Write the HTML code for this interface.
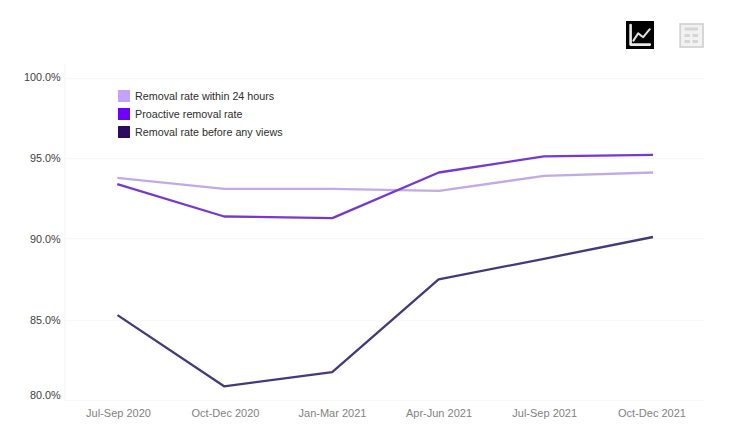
<!DOCTYPE html>
<html>
<head>
<meta charset="utf-8">
<style>
html,body{margin:0;padding:0;background:#fff;}
body{width:739px;height:448px;overflow:hidden;position:relative;font-family:"Liberation Sans",sans-serif;}
svg{position:absolute;left:0;top:0;}
.yl{font-size:10.8px;fill:#3e3e3e;}
.xl{font-size:11px;fill:#828282;}
.lg{font-size:10.75px;fill:#2e2e2e;}
</style>
</head>
<body>
<svg width="739" height="448" viewBox="0 0 739 448">
  <!-- grid -->
  <g fill="#f8f8f8">
    <rect x="65" y="78" width="639" height="1"/>
    <rect x="65" y="158" width="639" height="1"/>
    <rect x="65" y="238" width="639" height="1"/>
    <rect x="65" y="320" width="639" height="1"/>
    <rect x="65" y="400" width="639" height="1"/>
    <rect x="64.5" y="64" width="1" height="337" fill="#f4f4f4"/>
  </g>
  <!-- y labels -->
  <g class="yl" text-anchor="end">
    <text x="60.5" y="81">100.0%</text>
    <text x="60.5" y="162">95.0%</text>
    <text x="60.5" y="242.5">90.0%</text>
    <text x="60.5" y="323.6">85.0%</text>
    <text x="60.5" y="399">80.0%</text>
  </g>
  <!-- x labels -->
  <g class="xl" text-anchor="middle">
    <text x="118.5" y="417">Jul-Sep 2020</text>
    <text x="225.5" y="417">Oct-Dec 2020</text>
    <text x="332.5" y="417">Jan-Mar 2021</text>
    <text x="439" y="417">Apr-Jun 2021</text>
    <text x="544.7" y="417">Jul-Sep 2021</text>
    <text x="652" y="417">Oct-Dec 2021</text>
  </g>
  <!-- legend -->
  <rect x="118" y="90" width="12" height="12" fill="#c6a3fa"/>
  <rect x="118" y="108" width="12" height="12" fill="#6f00ff"/>
  <rect x="118" y="126" width="12" height="12" fill="#2c0b62"/>
  <g class="lg">
    <text x="135" y="99.5">Removal rate within 24 hours</text>
    <text x="135" y="117.5">Proactive removal rate</text>
    <text x="135" y="135.5">Removal rate before any views</text>
  </g>
  <!-- lines -->
  <g fill="none" stroke-width="2.3" stroke-linejoin="round" stroke-linecap="butt">
    <polyline stroke="#c2aae8" points="117.3,177.8 224.2,188.8 332.2,188.8 439,190.8 544,175.9 653,172.5"/>
    <polyline stroke="#7539d2" points="117.3,184.2 224.2,216.5 332.3,218.1 438.8,172.5 543.8,156.4 653,154.8"/>
    <polyline stroke="#45387c" points="117.5,315.1 224.1,386.3 332.2,372.1 438.6,279.3 544,258.8 653,237"/>
  </g>
  <!-- icons -->
  <rect x="626" y="21" width="28" height="28" fill="#000"/>
  <g fill="none" stroke="#e8e8e8" stroke-width="2.6" stroke-linecap="round" stroke-linejoin="round">
    <path d="M630.6,25 V44.6 H649.8"/>
  </g>
  <path d="M633.4,40.6 L638.2,33.4 L643.2,37.2 L649.8,29.2" fill="none" stroke="#e0e0e0" stroke-width="2" stroke-linecap="round" stroke-linejoin="round"/>
  <rect x="680.2" y="24" width="22.8" height="23" fill="#f2f2f2" stroke="#d3d3d3" stroke-width="1.8"/>
  <g fill="#d6d6d6">
    <rect x="684.5" y="27.5" width="13.5" height="3"/>
    <rect x="684.5" y="34" width="5.5" height="3"/>
    <rect x="692.5" y="34" width="5.5" height="3"/>
    <rect x="684.5" y="40" width="5.5" height="3"/>
    <rect x="692.5" y="40" width="5.5" height="3"/>
  </g>
</svg>
</body>
</html>
